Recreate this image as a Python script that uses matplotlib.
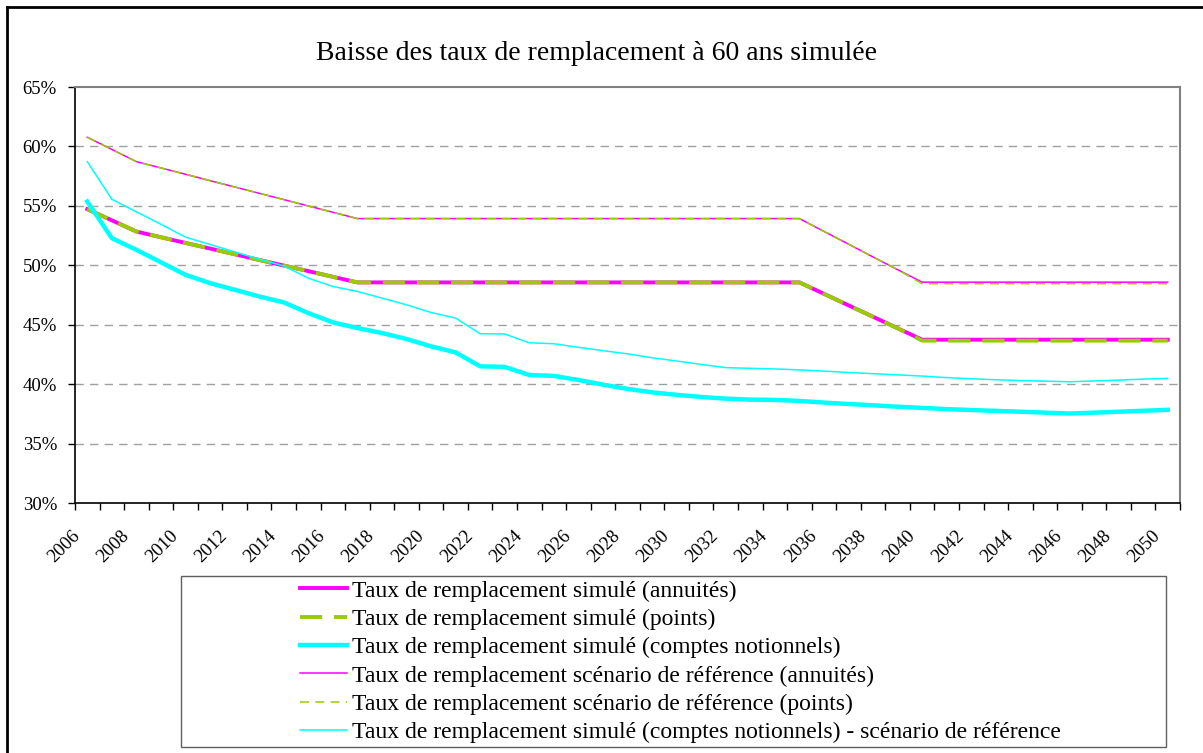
import numpy as np
import matplotlib
matplotlib.use("Agg")
import matplotlib.pyplot as plt
from matplotlib.patches import Rectangle
from matplotlib.lines import Line2D
from matplotlib.transforms import ScaledTranslation

plt.rcParams["font.family"] = ["Liberation Serif", "DejaVu Serif"]
plt.rcParams["lines.scale_dashes"] = False

# ==========================================
# Data (en %)
# ==========================================

years = list(range(2006, 2051))

sim_annuites = [54.72, 53.78, 52.84, 52.36, 51.88, 51.41, 50.93, 50.45, 49.98, 49.51,
                49.03, 48.56] + [48.56] * 18 + [47.60, 46.63, 45.67, 44.70, 43.74] + [43.74] * 10

sim_points = [54.72, 53.78, 52.84, 52.36, 51.88, 51.41, 50.93, 50.45, 49.98, 49.51,
              49.03, 48.56] + [48.56] * 18 + [47.60, 46.63, 45.67, 44.70, 43.66] + [43.66] * 10

sim_notionnels = [55.36, 52.28, 51.30, 50.25, 49.20, 48.50, 47.94, 47.38, 46.88, 45.98,
                  45.20, 44.72, 44.30, 43.80, 43.18, 42.67, 41.50, 41.45, 40.77, 40.69,
                  40.35, 39.96, 39.60, 39.31, 39.10, 38.92, 38.78, 38.70, 38.67, 38.59,
                  38.45, 38.33, 38.22, 38.10, 38.00, 37.90, 37.82, 37.75, 37.68, 37.60,
                  37.53, 37.60, 37.68, 37.76, 37.84]

ref_annuites = [60.77, 59.75, 58.72, 58.19, 57.66, 57.12, 56.59, 56.06, 55.53, 54.99,
                54.46, 53.93] + [53.93] * 18 + [52.85, 51.78, 50.70, 49.63, 48.58] + [48.58] * 10

ref_points = [60.77, 59.75, 58.72, 58.19, 57.66, 57.12, 56.59, 56.06, 55.53, 54.99,
              54.46, 53.93] + [53.93] * 18 + [52.85, 51.78, 50.70, 49.63, 48.45] + [48.45] * 10

ref_notionnels = [58.72, 55.56, 54.50, 53.45, 52.37, 51.75, 51.13, 50.52, 49.95, 48.92,
                  48.22, 47.80, 47.24, 46.68, 46.03, 45.56, 44.24, 44.22, 43.48, 43.40,
                  43.10, 42.82, 42.55, 42.22, 41.95, 41.66, 41.39, 41.33, 41.28, 41.20,
                  41.10, 40.98, 40.88, 40.78, 40.68, 40.55, 40.45, 40.37, 40.30, 40.25,
                  40.20, 40.27, 40.34, 40.42, 40.49]

labels = [
    "Taux de remplacement simulé (annuités)",
    "Taux de remplacement simulé (points)",
    "Taux de remplacement simulé (comptes notionnels)",
    "Taux de remplacement scénario de référence (annuités)",
    "Taux de remplacement scénario de référence (points)",
    "Taux de remplacement simulé (comptes notionnels) - scénario de référence",
]

y_ticks = [30, 35, 40, 45, 50, 55, 60, 65]

# ==========================================
# Figure
# ==========================================

W, H = 1203, 753
fig = plt.figure(figsize=(W / 100, H / 100), dpi=100)

ax = fig.add_axes([75 / W, 1 - 503 / H, 1105 / W, 416 / H])

x = np.arange(len(years))

MAG = "#FF00FF"
GRN = "#99CC00"
CYA = "#00FFFF"

ax.plot(x, sim_annuites, color=MAG, lw=2.8, label=labels[0])
ax.plot(x, sim_points, color=GRN, lw=2.8, dashes=(16, 8.5), label=labels[1])
ax.plot(x, sim_notionnels, color=CYA, lw=3.2, label=labels[2])
ax.plot(x, ref_annuites, color=MAG, lw=1.1, label=labels[3])
ax.plot(x, ref_points, color=GRN, lw=1.1, dashes=(6.5, 4.5), label=labels[4])
ax.plot(x, ref_notionnels, color=CYA, lw=1.1, label=labels[5])

ax.set_xlim(-0.5, len(years) - 0.5)
ax.set_ylim(30, 65)

# y axis
ax.set_yticks(y_ticks)
ax.set_yticklabels([f"{v}%" for v in y_ticks], fontsize=13.5)
ax.tick_params(axis="y", direction="out", length=5, width=1, pad=8)
for v in y_ticks[1:-1]:
    ax.axhline(v, color="#A0A0A0", lw=1, dashes=(6, 4.5), zorder=0)

# x axis
ax.set_xticks(np.arange(-0.5, len(years), 1), minor=True)
ax.set_xticks(x[::2])
ax.set_xticklabels([str(y) for y in years[::2]], fontsize=13.5,
                   rotation=45, ha="right", va="center", rotation_mode="anchor")
ax.tick_params(axis="x", which="major", length=0, pad=22)
ax.tick_params(axis="x", which="minor", direction="out", length=5, width=1)
shift = ScaledTranslation(-0.1, 0, fig.dpi_scale_trans)
for lab in ax.get_xticklabels():
    lab.set_transform(lab.get_transform() + shift)

for s in ["left", "bottom"]:
    ax.spines[s].set_color("black")
    ax.spines[s].set_linewidth(1.2)
for s in ["top", "right"]:
    ax.spines[s].set_color("#808080")
    ax.spines[s].set_linewidth(1.5)

# title
fig.text(597 / W, 1 - 54 / H, "Baisse des taux de remplacement à 60 ans simulée",
         ha="center", va="center", fontsize=20)

# legend box
fig.patches.append(Rectangle((181 / W, 1 - 747 / H), (1166 - 181) / W, (747 - 576) / H,
                             transform=fig.transFigure, fill=False,
                             edgecolor="#606060", lw=1))
leg = fig.legend(*ax.get_legend_handles_labels(), loc="upper left",
                 bbox_to_anchor=(300 / W, 1 - 580 / H), frameon=False,
                 fontsize=17, handlelength=2.0, handletextpad=0.2,
                 labelspacing=0.29, borderaxespad=0, borderpad=0)

# outer border
fig.add_artist(Line2D([7 / W, 7 / W], [0, 1 - 7 / H], transform=fig.transFigure,
                      color="black", lw=2))
fig.add_artist(Line2D([7 / W, 1], [1 - 7 / H, 1 - 7 / H], transform=fig.transFigure,
                      color="black", lw=2))

plt.savefig("out.png", dpi=100)
